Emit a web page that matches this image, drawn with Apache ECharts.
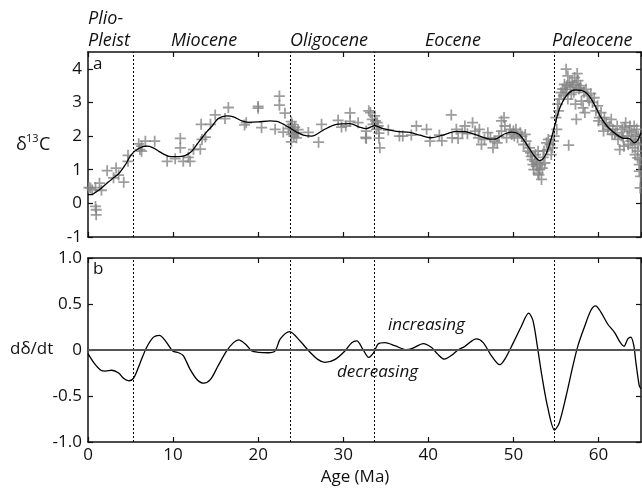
<!DOCTYPE html>
<html>
<head>
<meta charset="utf-8">
<script src="https://cdn.jsdelivr.net/npm/echarts@6/dist/echarts.min.js"></script>
<style>html,body{margin:0;padding:0;background:#fff}#c{width:642px;height:488px}</style>
</head>
<body>
<div id="c"></div>
<script>
// Epoch boundaries (Ma) and names
const boundaries = [5.3, 23.8, 33.7, 54.8];
const xTicks = [0, 10, 20, 30, 40, 50, 60];
const topYTicks = [-1, 0, 1, 2, 3, 4];
const botYTicks = [-1.0, -0.5, 0, 0.5, 1.0];

// delta13C samples [age Ma, value]
const d13cSamples = [
[0.1,0.47],[0.3,0.46],[0.5,0.40],[0.88,0.47],[1.35,0.60],[1.58,0.39],[0.88,-0.09],[0.96,-0.19],[0.96,-0.34],
[2.25,0.97],[3.3,1.05],[3.0,0.76],[3.6,0.84],[4.2,0.63],[4.7,1.43],[4.7,1.25],[5.96,1.77],[6.1,1.60],[6.3,1.70],
[6.74,1.85],[6.3,1.55],[7.84,1.85],[9.3,1.25],[10.25,1.33],[10.85,1.93],[10.85,1.65],[11.2,1.25],[12.0,1.25],
[11.8,1.37],[12.4,1.60],[13.2,1.61],[13.4,1.90],[13.8,1.97],[13.3,2.35],[14.4,2.35],[14.95,2.63],[16.1,2.52],
[16.5,2.85],[18.4,2.33],[18.6,2.40],[20.0,2.88],[20.0,2.83],[20.4,2.25],[22.0,2.20],[22.5,3.19],[22.5,2.92],
[23.15,2.68],[22.95,2.12],[23.9,2.43],[23.8,2.28],[24.1,2.18],[24.3,2.08],[23.9,2.05],[23.9,1.83],[24.5,1.95],
[24.7,2.19],[24.3,2.27],[24.0,2.35],[24.2,2.0],[23.6,2.22],[24.6,2.1],
[25.9,2.11],[27.1,1.82],[27.45,2.35],[29.4,2.47],[29.8,2.27],[30.8,2.69],[30.8,2.44],[30.3,2.30],[31.75,2.40],
[32.7,2.15],[32.7,1.93],[32.65,1.96],[33.0,2.75],[33.2,2.70],[33.7,2.60],[33.8,2.45],[34.1,2.30],[34.2,2.09],
[34.2,1.94],[34.3,1.65],[33.4,2.5],[33.9,2.2],[33.5,2.35],[34.0,2.4],
[35.3,2.18],[36.6,2.0],[37.0,2.0],[38.0,2.03],[38.6,2.30],[39.8,2.2],[40.2,1.85],[41.3,2.03],[41.6,1.86],
[42.7,2.63],[42.8,1.95],[43.3,2.20],[43.5,1.93],[44.3,2.30],[44.6,2.07],[45.2,2.40],[45.9,1.95],[46.25,1.75],
[46.6,1.90],[47.0,2.10],[47.6,1.65],[47.8,1.85],[48.6,2.45],[48.9,2.55],[48.6,2.15],[49.2,1.95],[50.0,2.15],
[50.3,2.20],[50.5,1.95],[51.0,2.0],[51.5,1.85],[51.7,1.55],[52.1,1.40],[52.5,1.25],[52.9,1.55],[52.7,1.10],
[53.1,1.0],[53.3,0.71],[53.0,0.85],[52.3,1.15],[53.5,1.37],[53.9,1.80],[54.1,1.90],[54.45,1.45],[54.6,1.65],
[44.0,2.1],[45.5,2.15],[46.0,2.2],[47.3,1.95],[48.1,1.8],[48.3,2.0],[49.6,2.2],[49.8,2.05],[50.8,2.1],[51.2,1.75],
[51.9,1.65],[52.2,1.3],[52.6,1.45],[52.8,1.2],[53.2,1.15],[52.4,1.0],[53.6,1.55],[53.7,1.2],[54.0,1.6],[54.3,1.75],
[54.8,2.0],[54.7,1.85],[49.0,2.3],[50.1,2.0],[51.4,2.05],[52.0,1.5],[52.9,0.9],[53.4,1.05],
[55.0,2.55],[55.2,2.95],[55.6,3.29],[56.2,3.99],[56.4,3.79],[56.0,3.54],[56.6,3.59],[56.2,3.39],[56.8,3.24],
[57.2,3.74],[57.5,3.86],[57.4,3.54],[57.8,3.44],[58.0,3.04],[58.2,2.84],[57.4,2.5],[56.5,1.73],[58.55,3.39],
[59.1,3.26],[59.5,3.14],[59.7,2.75],[60.1,2.55],[60.7,2.55],[60.5,2.35],[61.1,2.20],[61.5,2.50],[61.9,2.05],
[62.3,1.90],[62.5,1.60],[63.05,2.25],[63.2,2.40],[63.6,2.15],[63.8,1.85],[64.0,1.65],[64.2,2.30],[64.4,2.05],
[64.6,1.55],[64.6,1.35],[64.8,1.15],[64.8,0.96],[64.9,0.46],
[55.4,3.1],[55.8,3.4],[55.9,3.2],[56.3,3.5],[56.1,3.3],[56.7,3.45],[56.9,3.6],[57.0,3.5],[57.1,3.3],[57.6,3.65],
[57.7,3.4],[57.9,3.5],[58.3,3.3],[58.7,3.2],[58.9,3.05],[59.3,3.0],[59.9,2.9],[60.3,2.7],[60.9,2.4],[61.3,2.3],
[61.7,2.2],[62.0,2.1],[62.7,2.0],[62.9,1.95],[63.4,2.0],[63.5,1.75],[63.9,2.1],[64.1,1.9],[64.3,1.8],[64.5,2.2],
[64.7,1.75],[64.9,1.3],[64.95,0.8],[55.1,2.2],[55.3,2.75],[56.4,3.1],[57.3,2.95],[58.4,2.7],[60.0,2.45],[62.2,2.3],
[63.0,1.7],[64.3,1.45],[64.7,2.0],[63.7,2.3],[62.8,2.2],[61.6,2.05],[60.6,2.15]
];

// smoothed delta13C curve [age, value]
const d13cCurve = [
[0,0.26],[0.5,0.27],[1.2,0.38],[2.05,0.56],[2.8,0.72],[3.6,0.88],[4.4,1.15],[5.1,1.45],[5.96,1.63],[6.9,1.70],
[7.6,1.66],[8.3,1.55],[9.0,1.45],[9.5,1.40],[10.3,1.39],[11.4,1.42],[12.2,1.55],[12.8,1.75],[13.4,1.95],[14.0,2.14],
[14.6,2.30],[15.3,2.52],[16.3,2.60],[17.1,2.57],[18.1,2.45],[18.85,2.41],[20.0,2.42],[21.4,2.45],[22.2,2.44],
[23.15,2.33],[24.3,2.15],[25.3,2.03],[26.3,2.00],[27.6,2.17],[29.2,2.35],[30.8,2.37],[31.9,2.27],[32.7,2.22],
[33.7,2.31],[34.7,2.22],[36.25,2.14],[37.8,2.11],[39.0,2.03],[40.35,1.95],[41.7,2.03],[43.3,2.14],[44.3,2.13],
[45.5,2.05],[47.0,1.92],[47.8,1.91],[49.0,2.07],[49.8,2.12],[50.7,2.05],[51.7,1.70],[52.5,1.40],[53.1,1.27],
[53.7,1.40],[54.25,1.75],[54.85,2.30],[55.4,2.80],[56.2,3.19],[57.2,3.37],[58.0,3.36],[58.75,3.24],[59.5,2.95],
[60.3,2.55],[61.1,2.27],[62.1,2.05],[63.05,1.93],[63.6,1.93],[64.2,1.80],[64.6,1.87],[65.0,2.10]
];

// derivative d(delta)/dt [age, value]
const dDeltaDt = [
[0,-0.04],[0.7,-0.14],[1.5,-0.22],[2.05,-0.23],[2.8,-0.22],[3.6,-0.25],[4.2,-0.31],[4.8,-0.335],[5.4,-0.30],
[6.15,-0.135],[6.9,0.03],[7.7,0.14],[8.4,0.16],[9.1,0.10],[9.95,-0.01],[10.65,-0.03],[11.2,-0.06],[12.0,-0.21],
[12.8,-0.32],[13.6,-0.36],[14.4,-0.32],[15.3,-0.17],[16.3,-0.01],[17.1,0.08],[17.7,0.11],[18.5,0.065],[19.25,-0.01],
[20.0,-0.025],[21.2,-0.03],[22.0,-0.01],[22.6,0.12],[23.7,0.20],[24.9,0.10],[26.1,-0.025],[27.05,-0.105],
[27.85,-0.135],[29.0,-0.105],[30.2,-0.01],[31.0,0.08],[31.6,0.10],[32.3,0.01],[33.0,-0.08],[33.6,-0.025],
[34.1,0.065],[34.9,0.08],[36.05,0.047],[37.4,0.003],[38.2,0.02],[39.4,0.07],[40.35,0.03],[41.1,-0.045],
[41.9,-0.10],[42.7,-0.06],[43.5,0.0],[44.3,0.04],[45.65,0.12],[46.45,0.08],[47.4,-0.06],[48.4,-0.16],[49.0,-0.10],
[50.0,0.08],[50.9,0.25],[51.8,0.40],[52.3,0.32],[52.8,0.05],[53.35,-0.28],[54.05,-0.63],[54.85,-0.87],[55.4,-0.79],
[56.2,-0.50],[57.0,-0.17],[57.6,0.05],[58.35,0.25],[59.1,0.43],[59.65,0.48],[60.3,0.41],[61.1,0.28],[61.9,0.19],
[62.5,0.09],[63.0,0.04],[63.45,0.12],[63.8,0.14],[64.15,0.05],[64.4,-0.135],[64.8,-0.39],[65.0,-0.42]
];

const FONT = '"Open Sans", sans-serif';
const chart = echarts.init(document.getElementById('c'), null, {renderer: 'canvas'});
const axisLineStyle = {color: '#111', width: 1.5};
const tick = {show: true, inside: true, length: 5, lineStyle: {color: '#111', width: 1.2}};
function xAx(grid, pos, labels) {
  return {
    gridIndex: grid, type: 'value', position: pos, min: 0, max: 65, interval: 10,
    axisLine: {show: true, onZero: false, lineStyle: axisLineStyle}, axisTick: tick,
    axisLabel: {show: labels, showMaxLabel: false, fontFamily: FONT, fontSize: 17, color: '#111', margin: 5},
    splitLine: {show: false}
  };
}
function yAx(grid, pos, min, max, interval, labels, fmt) {
  return {
    gridIndex: grid, type: 'value', position: pos, min: min, max: max, interval: interval,
    axisLine: {show: true, onZero: false, lineStyle: axisLineStyle}, axisTick: tick,
    axisLabel: {show: labels, showMaxLabel: grid === 1, fontFamily: FONT, fontSize: 17, color: '#111', margin: 6, formatter: fmt},
    splitLine: {show: false}
  };
}
const vLines = boundaries.map(b => ({xAxis: b}));
const plus = 'path://M0,4.2 H4.2 V0 H5.8 V4.2 H10 V5.8 H5.8 V10 H4.2 V5.8 H0 Z';

const txt = (t, x, y, size, italic, align) => ({
  type: 'text', x: x, y: y, silent: true,
  style: {text: t, fill: '#111', font: (italic ? 'italic ' : '') + size + 'px ' + FONT, textAlign: align || 'left', textVerticalAlign: 'middle'}
});

chart.setOption({
  animation: false,
  backgroundColor: '#fff',
  grid: [
    {left: 88, right: 1, top: 52, height: 185},
    {left: 88, right: 1, top: 258, height: 184}
  ],
  xAxis: [xAx(0, 'bottom', false), xAx(0, 'top', false), xAx(1, 'bottom', true), xAx(1, 'top', false)],
  yAxis: [
    yAx(0, 'left', -1, 4.5, 1, true, v => String(v)),
    yAx(0, 'right', -1, 4.5, 1, false),
    yAx(1, 'left', -1, 1, 0.5, true, v => v === 0 ? '0' : v.toFixed(1)),
    yAx(1, 'right', -1, 1, 0.5, false)
  ],
  series: [
    {
      type: 'scatter', xAxisIndex: 0, yAxisIndex: 0, data: d13cSamples,
      symbol: plus, symbolSize: 11, itemStyle: {color: '#858585'}, z: 2, silent: true
    },
    {
      type: 'line', xAxisIndex: 0, yAxisIndex: 0, data: d13cCurve, smooth: 0.3, showSymbol: false,
      lineStyle: {color: '#000', width: 1.3}, z: 3, silent: true,
      markLine: {silent: true, symbol: ['none', 'none'], label: {show: false},
        lineStyle: {color: '#000', width: 1, type: [2, 2]}, data: vLines}
    },
    {
      type: 'line', xAxisIndex: 2, yAxisIndex: 2, data: dDeltaDt, smooth: 0.3, showSymbol: false,
      lineStyle: {color: '#000', width: 1.3}, z: 3, silent: true,
      markLine: {silent: true, symbol: ['none', 'none'], label: {show: false},
        lineStyle: {color: '#000', width: 1, type: [2, 2]},
        data: vLines.concat([{yAxis: 0, lineStyle: {color: '#555', width: 2, type: 'solid'}}])}
    }
  ],
  graphic: [
    txt('Plio-', 88, 19, 18, true),
    txt('Pleist', 88, 41, 18, true),
    txt('Miocene', 171, 41, 18, true),
    txt('Oligocene', 290, 41, 18, true),
    txt('Eocene', 425, 41, 18, true),
    txt('Paleocene', 552, 41, 18, true),
    txt('a', 93, 64, 17, false),
    txt('b', 93, 269, 17, false),
    txt('increasing', 388, 325, 17, true),
    txt('decreasing', 337, 372, 17, true),
    txt('Age (Ma)', 355, 477, 17, false, 'center'),
    txt('dδ/dt', 10, 349, 17, false),
    txt('δ', 16, 145, 18, false),
    txt('13', 26, 139, 11, false),
    txt('C', 39, 145, 18, false)
  ]
});
</script>
</body>
</html>
